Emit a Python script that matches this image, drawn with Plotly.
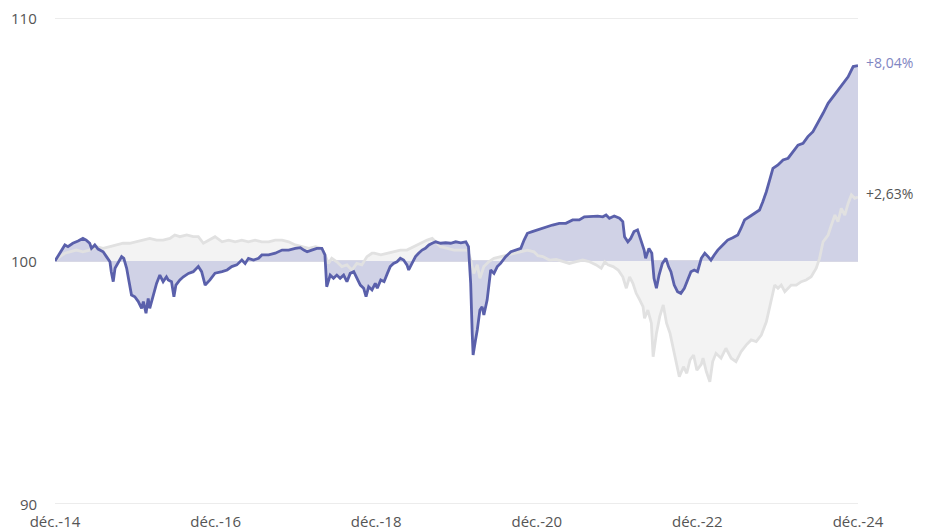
import plotly.graph_objects as go

# fund (blue) vs benchmark (grey), base 100 at end of Dec 2014
fund_dates = [
    "2014-12-31", "2015-01-22", "2015-02-14", "2015-02-28", "2015-03-22", "2015-04-15",
    "2015-05-07", "2015-05-22", "2015-06-07", "2015-06-15", "2015-06-30", "2015-07-15",
    "2015-08-07", "2015-08-22", "2015-09-07", "2015-09-13", "2015-09-22", "2015-09-30",
    "2015-10-14", "2015-10-30", "2015-11-09", "2015-11-22", "2015-12-03", "2015-12-14",
    "2015-12-29", "2016-01-14", "2016-01-29", "2016-02-06", "2016-02-18", "2016-02-28",
    "2016-03-06", "2016-03-21", "2016-04-06", "2016-04-21", "2016-05-06", "2016-05-21",
    "2016-05-29", "2016-06-13", "2016-06-24", "2016-07-03", "2016-07-21", "2016-08-06",
    "2016-08-29", "2016-09-20", "2016-10-13", "2016-10-28", "2016-11-13", "2016-12-05",
    "2016-12-28", "2017-01-29", "2017-02-21", "2017-03-14", "2017-04-06", "2017-04-29",
    "2017-05-14", "2017-05-29", "2017-06-21", "2017-07-14", "2017-07-29", "2017-08-29",
    "2017-09-28", "2017-10-29", "2017-11-28", "2017-12-28", "2018-01-20", "2018-02-05",
    "2018-02-20", "2018-03-13", "2018-04-05", "2018-04-28", "2018-05-12", "2018-05-20",
    "2018-06-05", "2018-06-20", "2018-07-05", "2018-07-20", "2018-08-05", "2018-08-20",
    "2018-09-04", "2018-09-20", "2018-10-04", "2018-10-20", "2018-11-04", "2018-11-15",
    "2018-11-27", "2018-12-12", "2018-12-27", "2019-01-05", "2019-01-21", "2019-02-05",
    "2019-02-20", "2019-03-05", "2019-03-20", "2019-04-05", "2019-04-20", "2019-05-05",
    "2019-05-20", "2019-05-28", "2019-06-12", "2019-06-28", "2019-07-12", "2019-07-28",
    "2019-08-12", "2019-08-28", "2019-09-12", "2019-09-28", "2019-10-20", "2019-11-12",
    "2019-12-05", "2019-12-28", "2020-01-20", "2020-02-12", "2020-02-24", "2020-03-05",
    "2020-03-12", "2020-03-16", "2020-03-27", "2020-04-04", "2020-04-16", "2020-04-26",
    "2020-05-04", "2020-05-19", "2020-05-26", "2020-06-04", "2020-06-19", "2020-07-04",
    "2020-07-19", "2020-08-11", "2020-09-04", "2020-09-26", "2020-10-19", "2020-11-03",
    "2020-11-18", "2020-12-10", "2021-01-03", "2021-01-20", "2021-02-12", "2021-03-12",
    "2021-04-12", "2021-05-12", "2021-06-12", "2021-07-12", "2021-08-04", "2021-09-04",
    "2021-10-04", "2021-10-27", "2021-11-11", "2021-11-26", "2021-12-18", "2022-01-11",
    "2022-01-26", "2022-02-03", "2022-02-18", "2022-03-03", "2022-03-18", "2022-04-03",
    "2022-04-18", "2022-05-03", "2022-05-10", "2022-05-25", "2022-06-07", "2022-06-17",
    "2022-06-28", "2022-07-10", "2022-07-25", "2022-08-10", "2022-08-22", "2022-09-02",
    "2022-09-17", "2022-10-02", "2022-10-17", "2022-11-02", "2022-11-17", "2022-12-02",
    "2022-12-17", "2023-01-01", "2023-01-18", "2023-02-03", "2023-02-18", "2023-03-03",
    "2023-03-18", "2023-04-03", "2023-04-26", "2023-05-18", "2023-06-10", "2023-07-03",
    "2023-07-18", "2023-08-03", "2023-08-25", "2023-09-18", "2023-10-10", "2023-10-25",
    "2023-11-10", "2023-11-25", "2023-12-10", "2024-01-02", "2024-01-25", "2024-02-17",
    "2024-03-10", "2024-04-02", "2024-04-25", "2024-05-17", "2024-06-09", "2024-07-02",
    "2024-07-25", "2024-08-17", "2024-09-09", "2024-10-01", "2024-10-24", "2024-11-16",
    "2024-12-09", "2024-12-31",
]
fund_values = [
    100.00, 100.32, 100.66, 100.59, 100.73, 100.82,
    100.93, 100.86, 100.73, 100.52, 100.66, 100.49,
    100.38, 100.18, 99.97, 99.56, 99.15, 99.70,
    99.90, 100.18, 100.11, 99.70, 99.15, 98.60,
    98.53, 98.33, 98.05, 98.33, 97.85, 98.46,
    98.05, 98.60, 99.08, 99.42, 99.15, 99.35,
    99.22, 99.15, 98.53, 99.01, 99.22, 99.35,
    99.49, 99.56, 99.77, 99.56, 99.01, 99.22,
    99.50, 99.56, 99.63, 99.77, 99.84, 100.04,
    99.90, 100.11, 100.04, 100.11, 100.25, 100.25,
    100.32, 100.45, 100.45, 100.52, 100.55, 100.45,
    100.38, 100.45, 100.52, 100.52, 100.25, 98.94,
    99.42, 99.29, 99.42, 99.29, 99.42, 99.15,
    99.49, 99.56, 99.29, 99.01, 98.88, 98.53,
    98.94, 98.81, 99.08, 98.88, 99.22, 99.15,
    99.49, 99.77, 99.90, 99.97, 100.11, 100.04,
    99.84, 99.63, 99.90, 100.18, 100.32, 100.45,
    100.52, 100.66, 100.73, 100.79, 100.73, 100.75,
    100.73, 100.79, 100.75, 100.79, 100.59, 99.08,
    97.02, 96.13, 96.75, 97.16, 97.98, 98.12,
    97.78, 98.40, 98.94, 99.63, 99.49, 99.77,
    99.90, 100.18, 100.38, 100.45, 100.52, 100.86,
    101.14, 101.21, 101.28, 101.35, 101.41, 101.48,
    101.55, 101.55, 101.69, 101.69, 101.82, 101.85,
    101.85, 101.82, 101.89, 101.76, 101.85, 101.76,
    101.62, 101.00, 100.79, 100.93, 101.21, 101.28,
    100.86, 100.45, 100.11, 100.52, 100.32, 99.29,
    98.88, 99.42, 99.90, 100.11, 99.77, 99.56,
    99.01, 98.74, 98.67, 98.88, 99.22, 99.56,
    99.63, 99.56, 100.11, 100.32, 100.18, 100.04,
    100.25, 100.45, 100.66, 100.86, 100.96, 101.07,
    101.35, 101.69, 101.82, 101.96, 102.10, 102.44,
    102.85, 103.33, 103.81, 103.95, 104.16, 104.23,
    104.50, 104.77, 104.84, 105.12, 105.32, 105.67,
    106.08, 106.49, 106.76, 107.04, 107.31, 107.58,
    108.00, 108.04,
]

bench_dates = [
    "2014-12-31", "2015-01-22", "2015-02-14", "2015-03-08", "2015-04-07", "2015-05-07",
    "2015-06-07", "2015-07-07", "2015-08-07", "2015-09-07", "2015-10-07", "2015-11-06",
    "2015-12-06", "2016-01-06", "2016-02-06", "2016-03-06", "2016-04-06", "2016-05-06",
    "2016-06-06", "2016-06-28", "2016-07-21", "2016-08-21", "2016-09-20", "2016-10-13",
    "2016-11-05", "2016-11-28", "2016-12-28", "2017-01-29", "2017-02-28", "2017-03-30",
    "2017-04-29", "2017-05-29", "2017-06-28", "2017-07-29", "2017-08-29", "2017-09-28",
    "2017-10-29", "2017-11-28", "2017-12-28", "2018-01-28", "2018-02-28", "2018-03-30",
    "2018-04-28", "2018-05-12", "2018-05-28", "2018-06-12", "2018-07-05", "2018-07-28",
    "2018-08-20", "2018-09-12", "2018-10-04", "2018-10-27", "2018-11-19", "2018-12-12",
    "2018-12-22", "2019-01-21", "2019-02-20", "2019-03-20", "2019-04-20", "2019-05-20",
    "2019-06-20", "2019-07-20", "2019-08-20", "2019-09-12", "2019-09-28", "2019-10-20",
    "2019-11-20", "2019-12-20", "2020-01-20", "2020-02-20", "2020-03-05", "2020-03-19",
    "2020-04-04", "2020-04-16", "2020-05-04", "2020-05-26", "2020-06-19", "2020-07-19",
    "2020-08-19", "2020-09-18", "2020-10-19", "2020-11-18", "2020-12-18", "2021-01-05",
    "2021-01-27", "2021-02-26", "2021-03-29", "2021-04-28", "2021-05-28", "2021-06-28",
    "2021-07-28", "2021-08-28", "2021-09-27", "2021-10-20", "2021-11-05", "2021-11-20",
    "2021-12-13", "2022-01-05", "2022-01-26", "2022-02-11", "2022-02-26", "2022-03-13",
    "2022-03-28", "2022-04-13", "2022-04-28", "2022-05-05", "2022-05-20", "2022-06-05",
    "2022-06-13", "2022-06-28", "2022-07-13", "2022-07-29", "2022-08-13", "2022-08-29",
    "2022-09-13", "2022-09-28", "2022-10-10", "2022-10-29", "2022-11-13", "2022-11-28",
    "2022-12-14", "2022-12-29", "2023-01-18", "2023-01-26", "2023-02-10", "2023-02-26",
    "2023-03-11", "2023-03-26", "2023-04-18", "2023-05-10", "2023-06-03", "2023-06-25",
    "2023-07-18", "2023-08-10", "2023-09-02", "2023-09-25", "2023-10-18", "2023-11-10",
    "2023-12-02", "2023-12-18", "2024-01-02", "2024-01-17", "2024-02-02", "2024-02-17",
    "2024-03-02", "2024-03-25", "2024-04-17", "2024-05-09", "2024-06-01", "2024-06-24",
    "2024-07-09", "2024-07-25", "2024-08-17", "2024-09-01", "2024-09-17", "2024-10-01",
    "2024-10-16", "2024-11-01", "2024-11-16", "2024-12-01", "2024-12-16", "2024-12-31",
]
bench_values = [
    100.00, 100.18, 100.32, 100.38, 100.45, 100.38,
    100.45, 100.59, 100.52, 100.59, 100.66, 100.73,
    100.73, 100.79, 100.86, 100.93, 100.86, 100.86,
    100.93, 101.07, 101.00, 101.07, 101.00, 101.00,
    100.73, 100.86, 101.00, 100.79, 100.86, 100.79,
    100.86, 100.79, 100.86, 100.79, 100.79, 100.86,
    100.86, 100.79, 100.66, 100.59, 100.52, 100.59,
    100.52, 100.25, 99.90, 100.11, 99.97, 99.77,
    99.84, 99.63, 99.90, 99.84, 100.18, 100.32,
    100.32, 100.25, 100.32, 100.38, 100.45, 100.45,
    100.59, 100.73, 100.86, 100.93, 100.79, 100.59,
    100.52, 100.45, 100.45, 100.45, 100.04, 99.49,
    99.84, 99.29, 99.77, 99.97, 100.11, 100.18,
    100.25, 100.32, 100.38, 100.45, 100.38, 100.22,
    100.18, 100.04, 100.07, 99.97, 99.90, 99.97,
    100.04, 99.97, 99.84, 99.70, 99.97, 99.84,
    99.77, 99.63, 99.35, 98.88, 99.35, 99.08,
    98.67, 98.40, 98.12, 97.64, 97.98, 97.44,
    96.06, 97.02, 97.71, 98.19, 97.44, 97.02,
    96.34, 95.79, 95.24, 95.65, 95.38, 95.93,
    96.13, 95.51, 95.75, 96.00, 95.45, 95.03,
    95.86, 96.20, 96.00, 96.41, 96.00, 95.86,
    96.27, 96.54, 96.75, 96.68, 96.95, 97.50,
    98.46, 99.01, 98.88, 99.01, 98.74, 98.88,
    99.01, 99.01, 99.15, 99.22, 99.35, 99.70,
    100.11, 100.79, 101.07, 101.48, 101.89, 101.62,
    102.17, 101.89, 102.37, 102.72, 102.58, 102.63,
]

tick_dates = ["2014-12-31", "2016-12-31", "2018-12-31", "2020-12-31", "2022-12-31", "2024-12-31"]
tick_labels = ["déc.-14", "déc.-16", "déc.-18", "déc.-20", "déc.-22", "déc.-24"]
y_ticks = [90, 100, 110]
end_labels = ["+8,04%", "+2,63%"]

BLUE = "#5a60ab"
BLUE_FILL = "#d0d2e6"
GREY = "#e1e1e1"
GREY_FILL = "#f3f3f3"

base_x = [fund_dates[0], fund_dates[-1]]
base_y = [100, 100]

fig = go.Figure()
# fills first: each area is closed against a flat line at 100
fig.add_trace(go.Scatter(x=base_x, y=base_y, mode="lines", line=dict(width=0), hoverinfo="skip"))
fig.add_trace(go.Scatter(x=bench_dates, y=bench_values, mode="lines", line=dict(width=0),
                         fill="tonexty", fillcolor=GREY_FILL, hoverinfo="skip"))
fig.add_trace(go.Scatter(x=base_x, y=base_y, mode="lines", line=dict(width=0), hoverinfo="skip"))
fig.add_trace(go.Scatter(x=fund_dates, y=fund_values, mode="lines", line=dict(width=0),
                         fill="tonexty", fillcolor=BLUE_FILL, hoverinfo="skip"))
# then the lines on top
fig.add_trace(go.Scatter(x=bench_dates, y=bench_values, mode="lines",
                         line=dict(color=GREY, width=2.8)))
fig.add_trace(go.Scatter(x=fund_dates, y=fund_values, mode="lines",
                         line=dict(color=BLUE, width=2.8)))

# horizontal rules at 90 / 110 (plotly drops grid lines sitting on the range edges)
for yv in (y_ticks[0], y_ticks[-1]):
    fig.add_shape(type="line", xref="x", yref="y", x0=base_x[0], x1=base_x[1], y0=yv, y1=yv,
                  line=dict(color="#e6e6e6", width=1.5), layer="below")
fig.add_shape(type="line", xref="x", yref="y", x0=base_x[0], x1=base_x[1], y0=100, y1=100,
              line=dict(color="#cbcbdc", width=1.5), layer="below")

# y labels as annotations: the top tick label gets dropped at the figure edge otherwise
for yv in y_ticks:
    fig.add_annotation(x=0, xref="paper", y=yv, yref="y", text=str(yv), showarrow=False,
                       xanchor="right", xshift=-16, font=dict(color="#555555", size=15))

fig.add_annotation(x=fund_dates[-1], y=fund_values[-1], text=end_labels[0], showarrow=False,
                   xanchor="left", xshift=6, yshift=3, font=dict(color="#7f85c2", size=14))
fig.add_annotation(x=bench_dates[-1], y=bench_values[-1], text=end_labels[1], showarrow=False,
                   xanchor="left", xshift=6, yshift=4, font=dict(color="#555555", size=14))

# page body has an 8px margin, so the figure is sized/offset to compensate
fig.update_layout(
    width=918,
    height=523,
    showlegend=False,
    plot_bgcolor="white",
    paper_bgcolor="white",
    margin=dict(l=47, r=68, t=10, b=27),
    font=dict(family="Open Sans", color="#555555", size=14),
    xaxis=dict(
        range=[tick_dates[0], tick_dates[-1]],
        tickvals=tick_dates,
        ticktext=tick_labels,
        showgrid=False,
        zeroline=False,
        showline=False,
        ticks="",
        tickfont=dict(size=15),
        ticklabelstandoff=7,
        automargin=False,
    ),
    yaxis=dict(
        range=[y_ticks[0], y_ticks[-1]],
        showgrid=False,
        zeroline=False,
        showticklabels=False,
        ticks="",
        automargin=False,
    ),
)

fig.write_html("out.html")
